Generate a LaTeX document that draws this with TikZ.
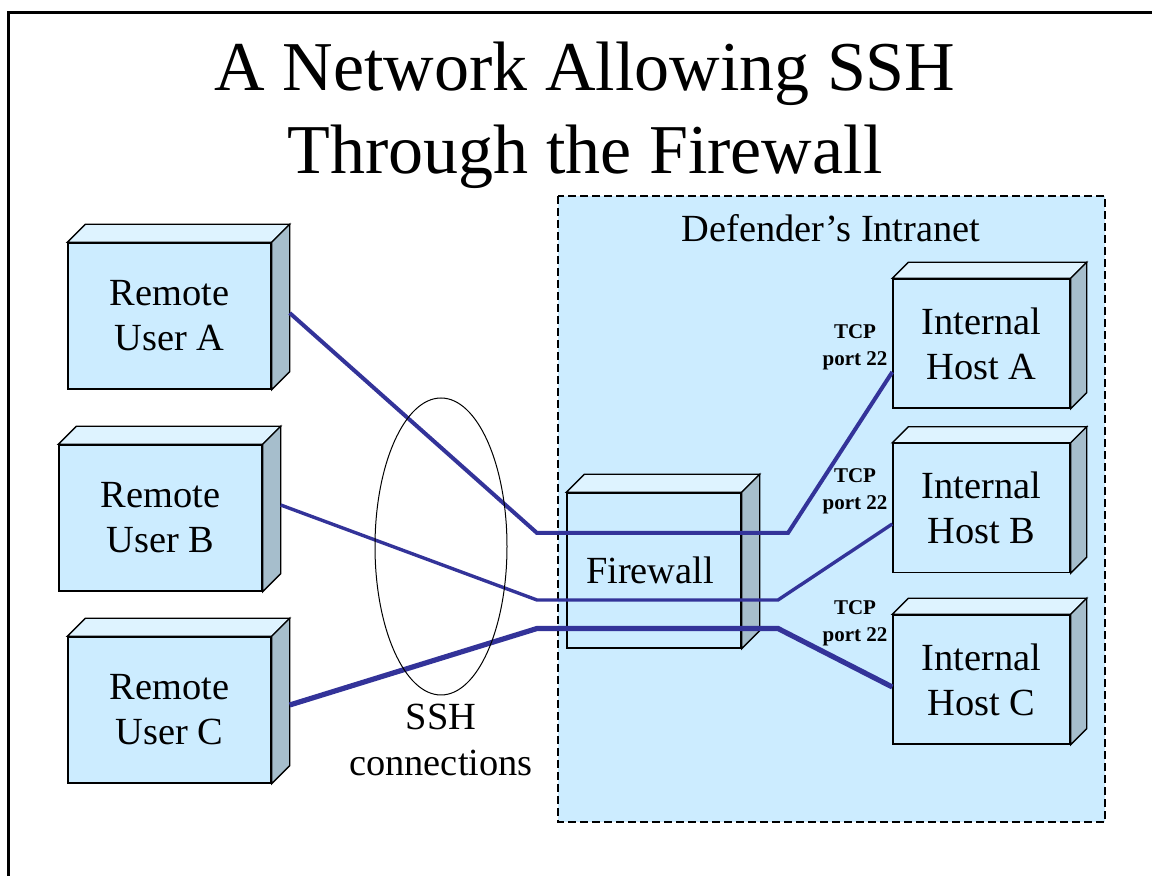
\documentclass[tikz,border=0pt]{standalone}
\usepackage{fontspec}
\setmainfont{Liberation Serif}
\usepackage{tikz}
\usetikzlibrary{positioning}
\usepackage{xcolor}
\definecolor{boxfront}{RGB}{204,236,255}
\definecolor{boxtop}{RGB}{222,243,255}
\definecolor{boxside}{RGB}{166,190,204}
\definecolor{sshline}{RGB}{51,51,153}

\tikzset{
	host/.style={draw, line width=0.7pt, fill=boxfront, align=center, inner sep=0pt,
		font=\fontsize{19.2}{22.5}\selectfont},
	remote/.style={host, minimum width=101.5pt, minimum height=73pt},
	internal/.style={host, minimum width=88.5pt, minimum height=64.5pt},
	tcp/.style={align=center, font=\bfseries\fontsize{10.5}{13.5}\selectfont},
	conn/.style={draw=sshline, line join=miter}
}

\begin{document}
\begin{tikzpicture}[x=0.5pt,y=-0.5pt]
		\useasboundingbox (0,0) rectangle (1152,876);
		% FRAME AND TITLE
		\draw [line width=1.5pt] (8,880) -- (8,13) -- (1160,13);
		\node [align=center, font=\fontsize{35}{41.5}\selectfont] (title) at (585,115) {A Network Allowing SSH\\Through the Firewall};
		% INTRANET
		\filldraw [fill=boxfront, line width=1pt, dash pattern=on 4pt off 2pt] (558,196) rectangle (1105,822);
		\node [font=\fontsize{19.2}{22.5}\selectfont] (intranet) at (831,228) {Defender’s Intranet};
		% HOSTS
		\node [remote] (userA) at (169.5,316) {Remote\\User A};
		\node [remote] (userB) at (160.5,518) {Remote\\User B};
		\node [remote] (userC) at (169.5,710) {Remote\\User C};
		\node [host, minimum width=87pt, minimum height=77.5pt] (fw) at (654,570.5) {Firewall\hspace*{4pt}};
		\node [internal] (hostA) at (981.5,343.5) {Internal\\Host A};
		\node [internal] (hostB) at (981.5,508) {Internal\\Host B};
		\node [internal] (hostC) at (981.5,679.5) {Internal\\Host C};
		\foreach \n/\d in {userA/18,userB/18,userC/18,fw/18,hostA/16,hostB/16,hostC/16} {
			\filldraw [fill=boxtop, line width=0.7pt] (\n.north west) -- ++(\d,-\d) -- ([shift={(\d,-\d)}]\n.north east) -- (\n.north east) -- cycle;
			\filldraw [fill=boxside, line width=0.7pt] (\n.north east) -- ++(\d,-\d) -- ([shift={(\d,-\d)}]\n.south east) -- (\n.south east) -- cycle;
		}
		% SSH CONNECTIONS
		\draw [conn, line width=2pt] ([xshift=9pt,yshift=1.5pt]userA.east) -- (537,533) -- (788,533) -- ([yshift=-14.25pt]hostA.west);
		\draw [conn, line width=1.7pt] ([xshift=9pt,yshift=6.5pt]userB.east) -- (537,600) -- (778,600) -- ([yshift=-8pt]hostB.west);
		\draw [conn, line width=2.6pt] ([xshift=9pt,yshift=2.5pt]userC.east) -- (537,628.5) -- (778,628.5) -- ([yshift=-3.75pt]hostC.west);
		\draw [line width=0.5pt] (441,546.5) ellipse [x radius=33pt, y radius=74.25pt];
		\node [align=center, font=\fontsize{19.2}{23}\selectfont] (ssh) at (441,740) {SSH\\connections};
		% PORT LABELS
		\node [tcp] (tcpA) at (855,347.5) {TCP\\port 22};
		\node [tcp] (tcpB) at (855,491.5) {TCP\\port 22};
		\node [tcp] (tcpC) at (855,623.5) {TCP\\port 22};
\end{tikzpicture}
\end{document}
